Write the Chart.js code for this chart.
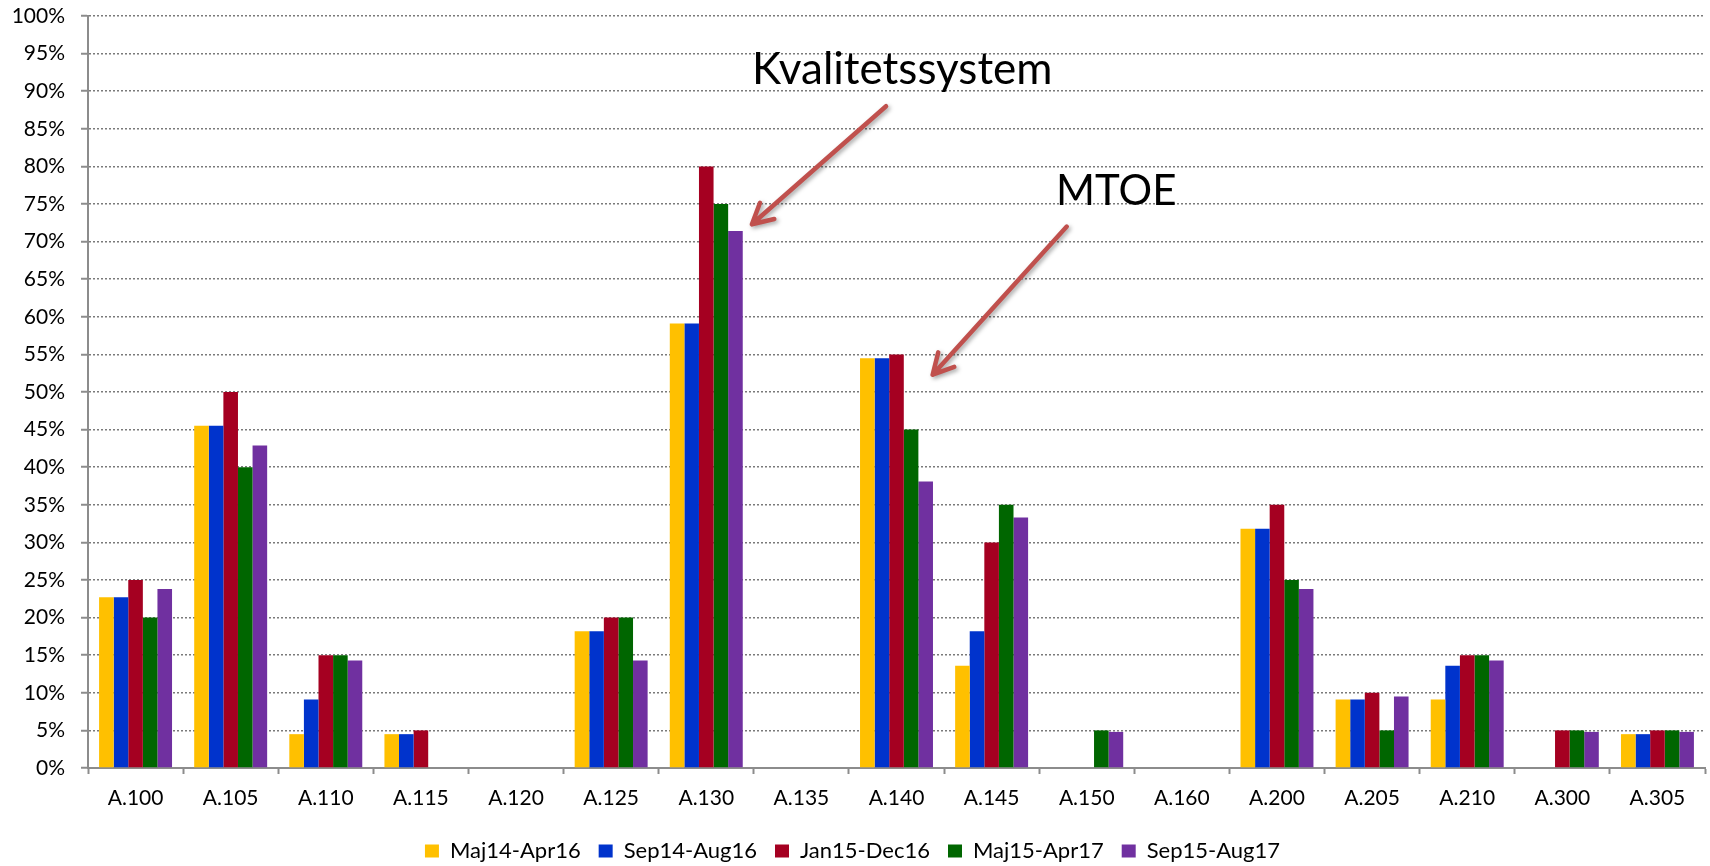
<!DOCTYPE html>
<html>
<head>
<meta charset="utf-8">
<script src="https://cdn.jsdelivr.net/npm/chart.js@4.4.1/dist/chart.umd.min.js"></script>
<style>
  html, body { margin: 0; padding: 0; background: #fff; }
  #wrap { width: 1710px; height: 866px; }
</style>
</head>
<body>
<div id="wrap"><canvas id="bar-chart"></canvas></div>
<script>
var categories = ["A.100","A.105","A.110","A.115","A.120","A.125","A.130","A.135","A.140","A.145","A.150","A.160","A.200","A.205","A.210","A.300","A.305"];
var seriesNames = ["Maj14-Apr16","Sep14-Aug16","Jan15-Dec16","Maj15-Apr17","Sep15-Aug17"];
var seriesColors = ["#FFC000","#0033CC","#A50021","#006600","#7030A0"];

var maj14 = [22.7, 45.5, 4.5, 4.5, 0, 18.2, 59.1, 0, 54.5, 13.6, 0, 0, 31.8, 9.1, 9.1, 0, 4.5];
var sep14 = [22.7, 45.5, 9.1, 4.5, 0, 18.2, 59.1, 0, 54.5, 18.2, 0, 0, 31.8, 9.1, 13.6, 0, 4.5];
var jan15 = [25, 50, 15, 5, 0, 20, 80, 0, 55, 30, 0, 0, 35, 10, 15, 5, 5];
var maj15 = [20, 40, 15, 0, 0, 20, 75, 0, 45, 35, 5, 0, 25, 5, 15, 5, 5];
var sep15 = [23.8, 42.9, 14.3, 0, 0, 14.3, 71.4, 0, 38.1, 33.3, 4.8, 0, 23.8, 9.5, 14.3, 4.8, 4.8];
var allSeries = [maj14, sep14, jan15, maj15, sep15];

var yTicks = [0,5,10,15,20,25,30,35,40,45,50,55,60,65,70,75,80,85,90,95,100];

// annotation texts and arrows, in (category index, percent) units
var noteTexts = ["Kvalitetssystem", "MTOE"];
var noteSizes = [44, 42];
var noteTextPos = [[8.06, 91.0], [10.31, 74.9]];
var arrowFrom = [[7.89, 88.0], [9.79, 72.0]];
var arrowTo = [[6.48, 72.3], [8.38, 52.3]];

var FONT = "Lato";
var AXISGREY = "#8c8c8c";

var datasets = [];
for (var i = 0; i < allSeries.length; i++) {
  datasets.push({
    label: seriesNames[i],
    data: allSeries[i],
    backgroundColor: seriesColors[i],
    borderWidth: 0,
    categoryPercentage: 0.767,
    barPercentage: 1.0
  });
}

var notesPlugin = {
  id: "notes",
  afterDraw: function(chart) {
    var ctx = chart.ctx;
    var xs = chart.scales.x, ys = chart.scales.y;
    ctx.save();
    ctx.fillStyle = "#000";
    ctx.textAlign = "center";
    ctx.textBaseline = "alphabetic";
    for (var n = 0; n < noteTexts.length; n++) {
      ctx.font = noteSizes[n] + "px " + FONT;
      ctx.fillText(noteTexts[n], xs.getPixelForValue(noteTextPos[n][0]), ys.getPixelForValue(noteTextPos[n][1]));
    }
    ctx.strokeStyle = "#C0504D";
    ctx.lineWidth = 4.5;
    ctx.lineCap = "round";
    ctx.lineJoin = "round";
    ctx.shadowColor = "rgba(0,0,0,0.35)";
    ctx.shadowBlur = 4;
    ctx.shadowOffsetX = 2;
    ctx.shadowOffsetY = 2;
    for (var a = 0; a < arrowFrom.length; a++) {
      var x1 = xs.getPixelForValue(arrowFrom[a][0]), y1 = ys.getPixelForValue(arrowFrom[a][1]);
      var x2 = xs.getPixelForValue(arrowTo[a][0]), y2 = ys.getPixelForValue(arrowTo[a][1]);
      var ang = Math.atan2(y1 - y2, x1 - x2);
      var len = 23, spread = 0.49;
      ctx.beginPath();
      ctx.moveTo(x1, y1);
      ctx.lineTo(x2, y2);
      ctx.moveTo(x2 + len * Math.cos(ang - spread), y2 + len * Math.sin(ang - spread));
      ctx.lineTo(x2, y2);
      ctx.lineTo(x2 + len * Math.cos(ang + spread), y2 + len * Math.sin(ang + spread));
      ctx.stroke();
    }
    ctx.restore();
  }
};

var CHART1 = document.getElementById("bar-chart");
var barChart = new Chart(CHART1, {
  type: "bar",
  data: { labels: categories, datasets: datasets },
  plugins: [notesPlugin],
  options: {
    responsive: true,
    maintainAspectRatio: false,
    animation: false,
    layout: { padding: { left: 0, right: 5, top: 16, bottom: 2 } },
    plugins: {
      tooltip: { enabled: false },
      legend: {
        position: "bottom",
        maxHeight: 42,
        labels: {
          boxWidth: 14,
          boxHeight: 13,
          padding: 18,
          color: "#000",
          font: { family: FONT, size: 22 }
        }
      }
    },
    scales: {
      x: {
        afterFit: function(scale) { scale.height = 54; },
        grid: {
          offset: true,
          drawOnChartArea: false,
          drawTicks: true,
          tickLength: 6,
          tickColor: AXISGREY,
          tickWidth: 2
        },
        border: { color: AXISGREY, width: 2 },
        ticks: { color: "#000", font: { family: FONT, size: 21 }, padding: 12, maxRotation: 0, autoSkip: false }
      },
      y: {
        min: 0,
        max: 100,
        afterBuildTicks: function(scale) {
          scale.ticks = yTicks.map(function(v) { return { value: v }; });
        },
        afterFit: function(scale) {
          scale.width = 88;
          scale.paddingTop = 0;
          scale.paddingBottom = 0;
        },
        grid: {
          color: "#7a7a7a",
          lineWidth: 1.5,
          tickLength: 7,
          tickColor: AXISGREY,
          tickWidth: 2,
          tickBorderDash: []
        },
        border: { color: AXISGREY, width: 2, dash: [2, 2] },
        ticks: {
          color: "#000",
          font: { family: FONT, size: 21 },
          padding: 16,
          callback: function(v) { return v + "%"; }
        }
      }
    }
  }
});
</script>
</body>
</html>
